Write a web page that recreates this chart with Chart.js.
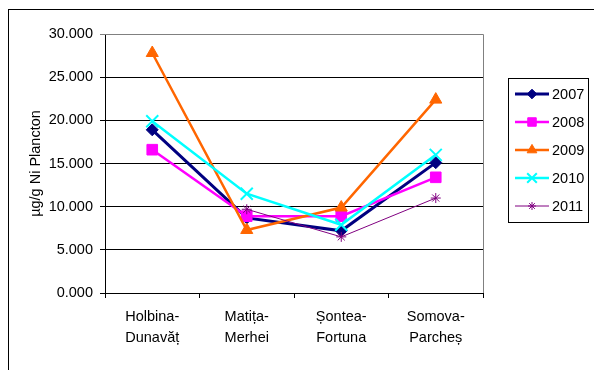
<!DOCTYPE html>
<html>
<head>
<meta charset="utf-8">
<script src="https://cdn.jsdelivr.net/npm/chart.js@4/dist/chart.umd.min.js"></script>
<style>
  html, body { margin: 0; padding: 0; background: #fff; }
  #wrap { width: 594px; height: 370px; position: relative; }
</style>
</head>
<body>
<div id="wrap"><canvas id="c" width="594" height="370"></canvas></div>
<script>
// Sampling stations (two-line labels)
const categories = [
  ['Holbina-', 'Dunavăț'],
  ['Matița-', 'Merhei'],
  ['Șontea-', 'Fortuna'],
  ['Somova-', 'Parcheș']
];

// Ni in plankton, µg/g, per year
const years = ['2007', '2008', '2009', '2010', '2011'];
const ni2007 = [18.9, 8.7, 7.2, 15.1];
const ni2008 = [16.6, 8.9, 8.9, 13.4];
const ni2009 = [27.8, 7.3, 9.9, 22.4];
const ni2010 = [19.9, 11.5, 7.9, 16.0];
const ni2011 = [null, 9.7, 6.5, 11.0];

const yTickLabels = ['0.000', '5.000', '10.000', '15.000', '20.000', '25.000', '30.000'];

const FONT = 'Liberation Sans, Arial, sans-serif';
const FS = 14.5;

const seriesStyle = [
  { color: '#000080', point: 'rectRot',  radius: 6,   lw: 3,   pbw: 1 },
  { color: '#FF00FF', point: 'rect',     radius: 7.5, lw: 2.5, pbw: 1 },
  { color: '#FF6600', point: 'triangle', radius: 7,   lw: 2.5, pbw: 1 },
  { color: '#00FFFF', point: 'crossRot', radius: 8.5, lw: 2.5, pbw: 2 },
  { color: '#800080', point: 'star',     radius: 5,   lw: 1,   pbw: 1 }
];
const seriesData = [ni2007, ni2008, ni2009, ni2010, ni2011];

const datasets = years.map((y, i) => ({
  label: y,
  data: seriesData[i],
  borderColor: seriesStyle[i].color,
  backgroundColor: seriesStyle[i].color,
  borderWidth: seriesStyle[i].lw,
  pointStyle: seriesStyle[i].point,
  pointRadius: seriesStyle[i].radius,
  pointBorderWidth: seriesStyle[i].pbw,
  pointBackgroundColor: seriesStyle[i].color,
  pointBorderColor: seriesStyle[i].color,
  tension: 0,
  spanGaps: false,
  order: years.length - 1 - i
}));

// Frame, plot-area outline and boxed legend
const decor = {
  id: 'decor',
  beforeDraw(chart) {
    const ctx = chart.ctx;
    ctx.save();
    ctx.strokeStyle = '#000';
    ctx.lineWidth = 1;
    ctx.strokeRect(8.5, 9.5, 700, 700);
    ctx.restore();
  },
  beforeDatasetsDraw(chart) {
    const { ctx, chartArea: a } = chart;
    ctx.save();
    ctx.strokeStyle = '#808080';
    ctx.lineWidth = 1;
    ctx.beginPath();
    ctx.moveTo(a.left, Math.round(a.top) + 0.5);
    ctx.lineTo(Math.round(a.right) + 0.5, Math.round(a.top) + 0.5);
    ctx.lineTo(Math.round(a.right) + 0.5, a.bottom);
    ctx.stroke();
    ctx.restore();
  },
  afterDraw(chart) {
    const ctx = chart.ctx;
    ctx.save();
    ctx.fillStyle = '#fff';
    ctx.fillRect(508.5, 78.5, 80, 144);
    ctx.strokeStyle = '#000';
    ctx.lineWidth = 1;
    ctx.strokeRect(508.5, 78.5, 80, 144);
    chart.data.datasets.forEach((ds, i) => {
      const y = 94 + i * 28;
      ctx.strokeStyle = ds.borderColor;
      ctx.lineWidth = ds.borderWidth;
      ctx.beginPath();
      ctx.moveTo(515, y);
      ctx.lineTo(549, y);
      ctx.stroke();
      ctx.fillStyle = ds.pointBackgroundColor;
      ctx.strokeStyle = ds.pointBorderColor;
      ctx.lineWidth = ds.pointBorderWidth;
      Chart.helpers.drawPoint(ctx, {
        pointStyle: ds.pointStyle,
        radius: ds.pointRadius * 0.8,
        borderWidth: ds.pointBorderWidth,
        rotation: 0
      }, 532, y);
      ctx.fillStyle = '#000';
      ctx.font = FS + 'px ' + FONT;
      ctx.textBaseline = 'middle';
      ctx.textAlign = 'left';
      ctx.fillText(ds.label, 552, y + 1);
    });
    ctx.restore();
  }
};

new Chart(document.getElementById('c'), {
  type: 'line',
  data: { labels: categories, datasets },
  options: {
    responsive: false,
    animation: false,
    events: [],
    layout: { padding: { left: 0, top: 34, right: 111, bottom: 0 } },
    plugins: { legend: { display: false }, tooltip: { enabled: false } },
    scales: {
      x: {
        offset: true,
        grid: { offset: true, drawOnChartArea: false, drawTicks: true, tickLength: 5, color: '#000' },
        border: { color: '#000', width: 1 },
        ticks: {
          color: '#000',
          padding: 8,
          maxRotation: 0,
          autoSkip: false,
          font: { family: FONT, size: FS, lineHeight: 1.45 }
        },
        afterFit(scale) { scale.height = 77; }
      },
      y: {
        min: 0,
        max: 30,
        grid: {
          color: (c) => (c.tick && c.tick.value === 30 ? '#808080' : '#000'),
          tickLength: 5,
          drawTicks: true
        },
        border: { color: '#000', width: 1 },
        ticks: {
          stepSize: 5,
          color: '#000',
          padding: 7,
          font: { family: FONT, size: FS },
          callback: (v, i) => yTickLabels[i]
        },
        title: {
          display: true,
          text: 'µg/g Ni Plancton',
          color: '#000',
          font: { family: FONT, size: FS },
          padding: { top: 27, bottom: 0 }
        },
        afterFit(scale) { scale.width = 105; }
      }
    }
  },
  plugins: [decor]
});
</script>
</body>
</html>
